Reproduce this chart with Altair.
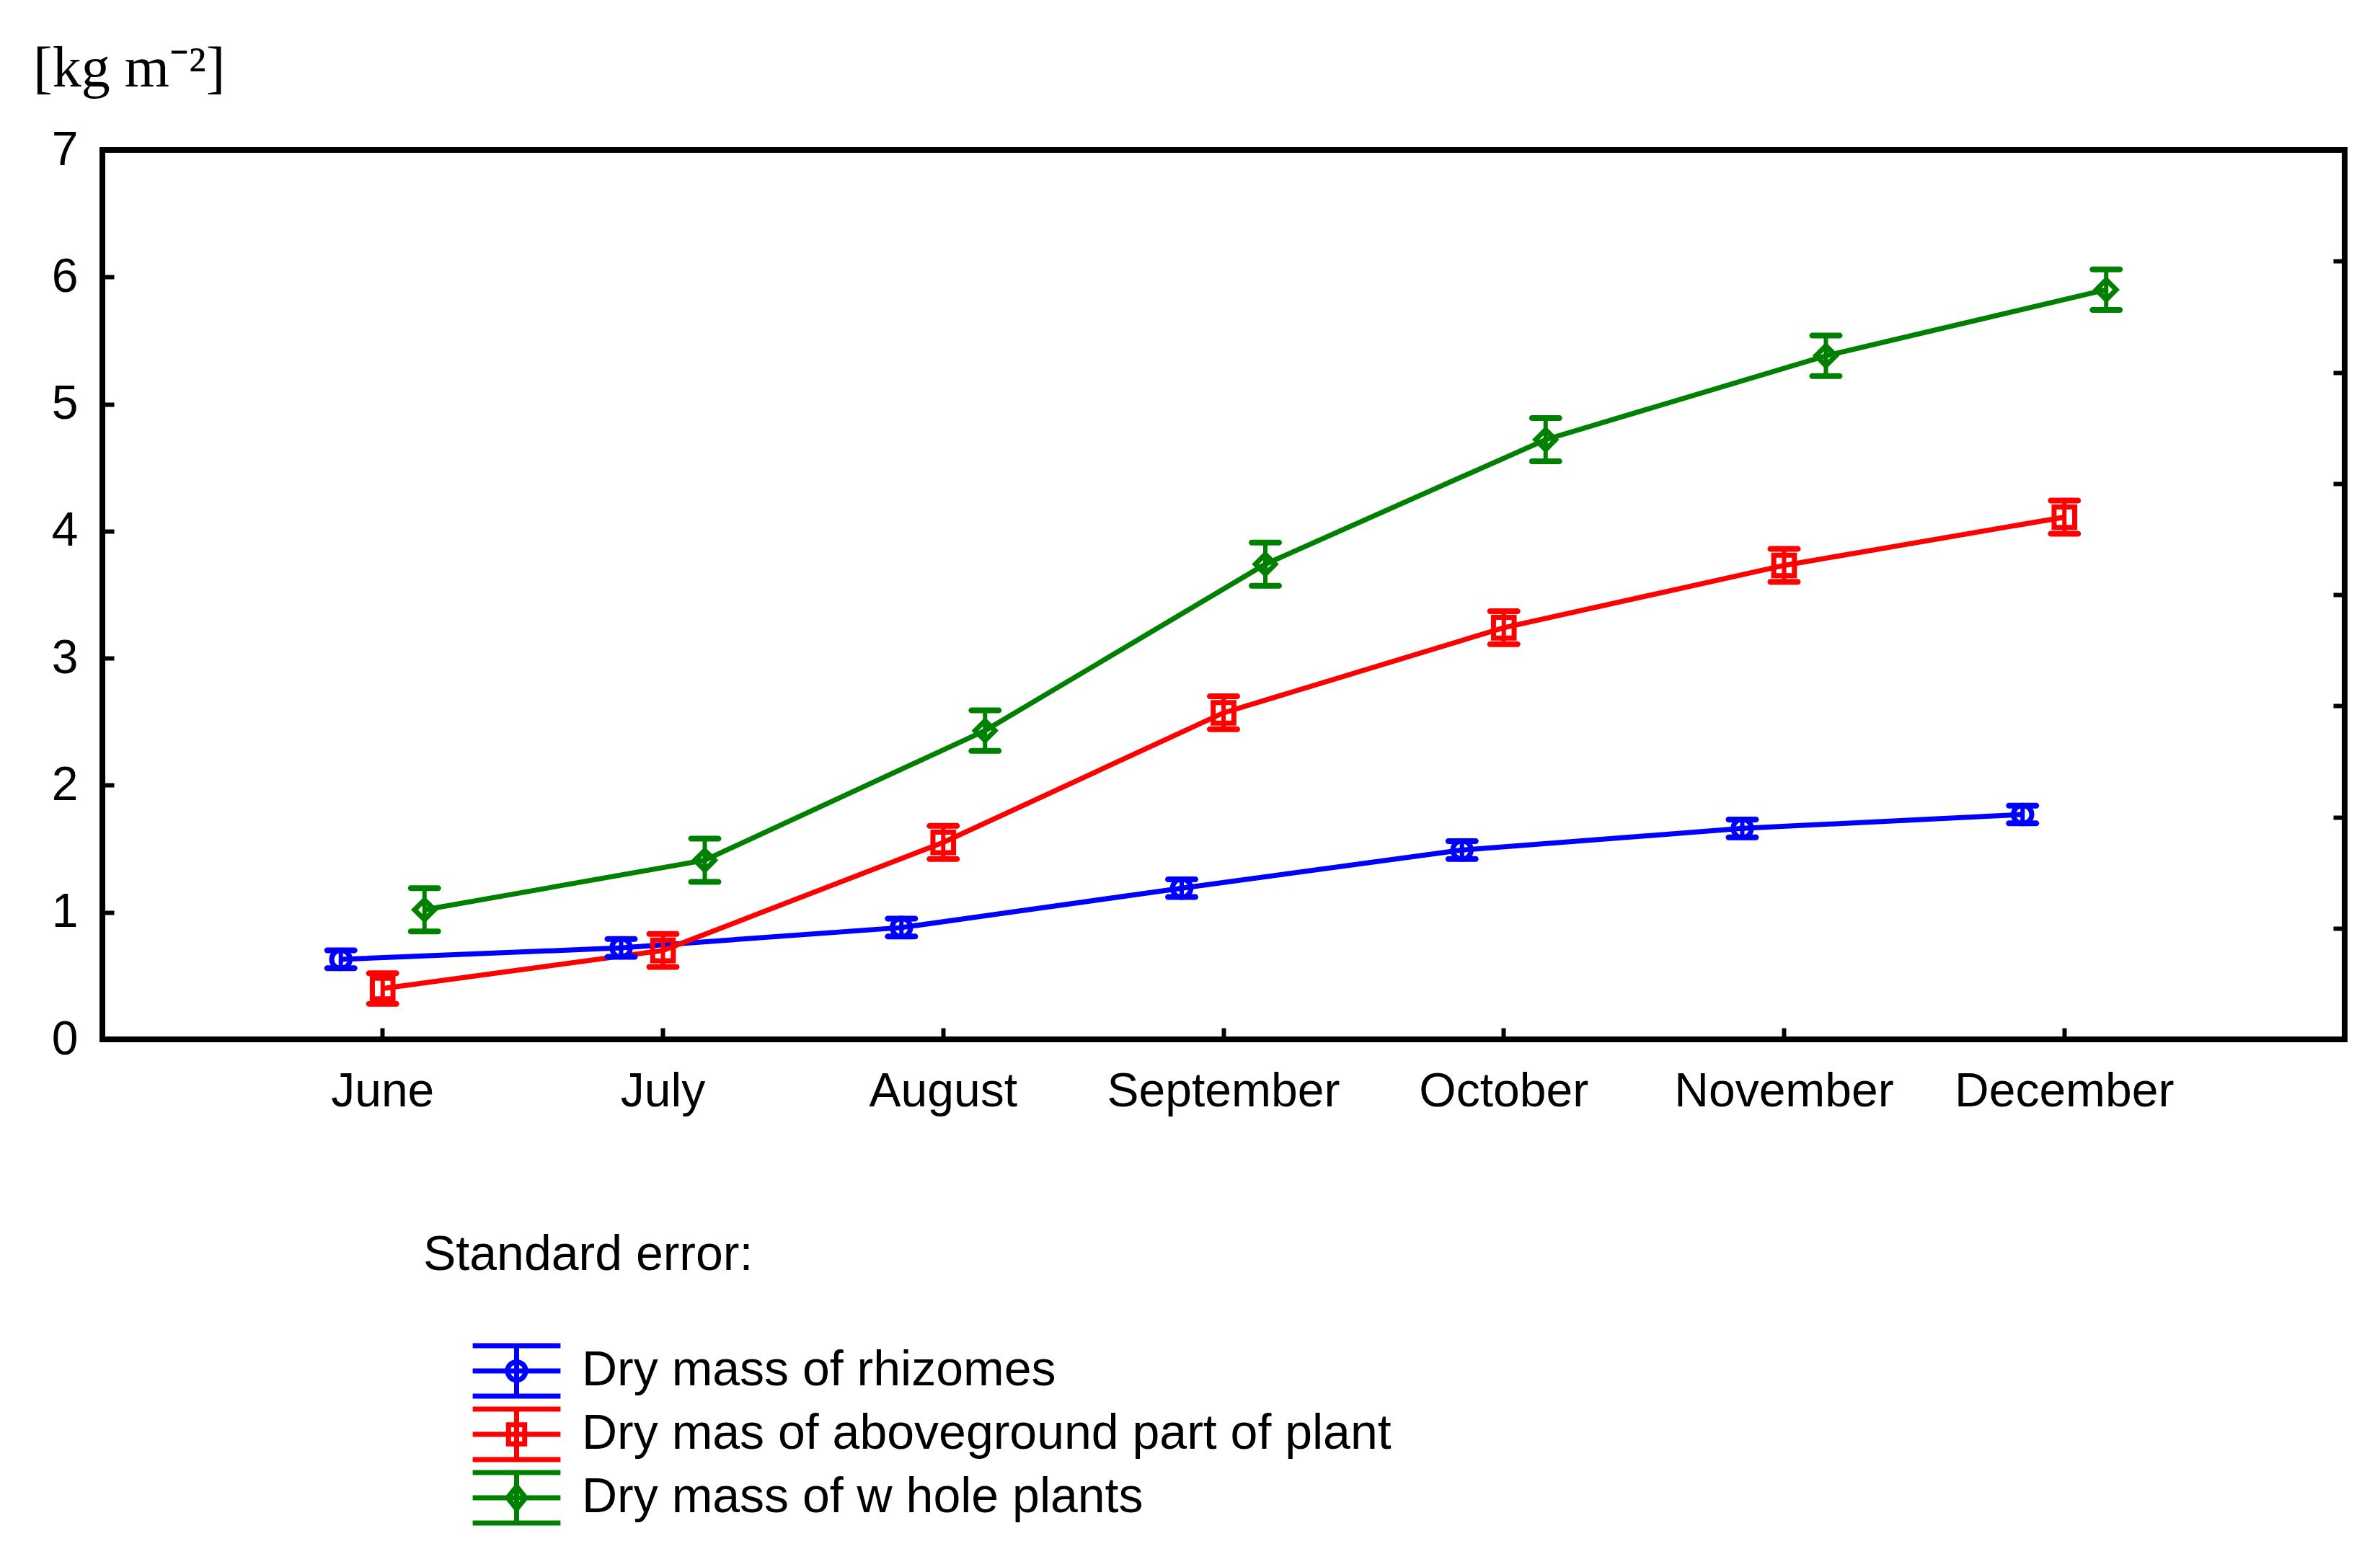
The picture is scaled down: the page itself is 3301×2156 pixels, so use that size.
import altair as alt
import pandas as pd

# ---------------- data ----------------
months = ["June", "July", "August", "September", "October", "November", "December"]
series_names = [
    "Dry mass of rhizomes",
    "Dry mas of aboveground part of plant",
    "Dry mass of w hole plants",
]
rhizomes = [0.63, 0.72, 0.88, 1.19, 1.49, 1.66, 1.77]
rhizomes_se = [0.07, 0.07, 0.07, 0.07, 0.07, 0.07, 0.07]
aboveground = [0.40, 0.70, 1.55, 2.57, 3.24, 3.73, 4.11]
aboveground_se = [0.12, 0.13, 0.13, 0.13, 0.13, 0.13, 0.13]
whole = [1.02, 1.41, 2.43, 3.74, 4.72, 5.38, 5.90]
whole_se = [0.17, 0.17, 0.16, 0.17, 0.17, 0.16, 0.16]

y_ticks = [0, 1, 2, 3, 4, 5, 6, 7]
right_ticks = [0.875, 1.75, 2.625, 3.5, 4.375, 5.25, 6.125]

# ---------------- style ----------------
colors = ["#0000ff", "#ff0000", "#008000"]
marker_shapes = ["circle", "square", "diamond"]
marker_sizes = [650, 820, 760]
x_offsets = [-58, 0, 58]
# legend glyph: unit = 35 px (symbolSize 4900)
bar_part = "M-1.74,-1H1.74M-1.74,0H1.74M-1.74,1H1.74M0,-1V1"
legend_paths = [
    bar_part + "M-0.36,0A0.36,0.36 0 1,0 0.36,0A0.36,0.36 0 1,0 -0.36,0",
    bar_part + "M-0.32,-0.38H0.32V0.38H-0.32Z",
    bar_part + "M0,-0.45L0.36,0L0,0.45L-0.36,0Z",
]
FONT = "Liberation Sans"

values_list = [rhizomes, aboveground, whole]
se_list = [rhizomes_se, aboveground_se, whole_se]

rows = []
for name, vals, ses in zip(series_names, values_list, se_list):
    for m, v, s in zip(months, vals, ses):
        rows.append({"month": m, "series": name, "value": v, "lo": v - s, "hi": v + s})
df = pd.DataFrame(rows)

x_scale = alt.Scale(type="band", domain=months, paddingInner=0, paddingOuter=0.5)
y_scale = alt.Scale(domain=[0, 7], nice=False, zero=True)

x_axis = alt.Axis(
    orient="bottom", offset=-16, tickSize=16, tickWidth=6, tickColor="black",
    labelPadding=40, labelFontSize=66, labelFont=FONT, labelColor="black",
    labelAngle=0, labelLimit=1000, labelOverlap=False, domain=False, grid=False,
    title=None, bandPosition=0.5,
)
y_axis = alt.Axis(
    orient="left", values=y_ticks, offset=-16, tickSize=16, tickWidth=6,
    tickColor="black", labelPadding=34, labelFontSize=66, labelFont=FONT,
    labelColor="black", domain=False, grid=False, title=None,
)
right_axis = alt.Axis(
    orient="right", values=right_ticks, offset=-16, tickSize=16, tickWidth=6,
    tickColor="black", labels=False, domain=False, grid=False, title=None,
)


def xenc():
    return alt.X("month:N", scale=x_scale, sort=months, axis=x_axis)


def yenc(field, axis=None):
    return alt.Y(field, type="quantitative", scale=y_scale, axis=axis)


layers = []
first = True
for i, name in enumerate(series_names):
    src = alt.Chart(df).transform_filter(alt.datum.series == name)
    line = src.mark_line(color=colors[i], strokeWidth=7, xOffset=x_offsets[i]).encode(
        x=xenc(),
        y=yenc("value", y_axis if first else None),
    )
    first = False
    layers.append(line)

for i, name in enumerate(series_names):
    src = alt.Chart(df).transform_filter(alt.datum.series == name)
    rule = src.mark_rule(color=colors[i], strokeWidth=6, xOffset=x_offsets[i]).encode(
        x=xenc(), y=yenc("lo"), y2="hi:Q"
    )
    cap_lo = src.mark_tick(
        color=colors[i], orient="horizontal", size=46, thickness=8,
        cornerRadius=4, opacity=1, xOffset=x_offsets[i],
    ).encode(x=xenc(), y=yenc("lo"))
    cap_hi = src.mark_tick(
        color=colors[i], orient="horizontal", size=46, thickness=8,
        cornerRadius=4, opacity=1, xOffset=x_offsets[i],
    ).encode(x=xenc(), y=yenc("hi"))
    pts = src.mark_point(
        shape=marker_shapes[i], size=marker_sizes[i], filled=False,
        color=colors[i], strokeWidth=7, opacity=1, xOffset=x_offsets[i],
    ).encode(x=xenc(), y=yenc("value"))
    layers += [rule, cap_lo, cap_hi, pts]

legend = alt.Legend(
    title="Standard error:", orient="none", legendX=445, legendY=1500,
    titleFont=FONT, titleFontSize=68, titleFontWeight="normal", titleColor="black",
    titlePadding=82, titleLimit=3000,
    labelFont=FONT, labelFontSize=68, labelColor="black", labelLimit=3000,
    symbolSize=4900, symbolStrokeWidth=7, symbolOffset=91, labelOffset=52,
    rowPadding=0, padding=0, clipHeight=88,
)

legend_layer = (
    alt.Chart(df)
    .transform_filter("false")
    .mark_point(filled=False, size=4900, strokeWidth=7, opacity=1)
    .encode(
        x=xenc(),
        y=yenc("value", right_axis),
        color=alt.Color("series:N", scale=alt.Scale(domain=series_names, range=colors), legend=legend),
        shape=alt.Shape("series:N", scale=alt.Scale(domain=series_names, range=legend_paths), legend=legend),
    )
)
layers.append(legend_layer)

chart = (
    alt.layer(*layers)
    .resolve_axis(y="independent")
    .properties(
        width=3110,
        height=1234,
        background="white",
        title=alt.TitleParams(
            text="[kg m⁻²]", anchor="start", frame="group", font="Liberation Serif",
            fontSize=80, fontWeight="normal", color="black", dx=-96, offset=38,
        ),
        autosize=alt.AutoSizeParams(type="none"),
        padding={"left": 134, "top": 200, "right": 30, "bottom": 690},
    )
    .configure_view(stroke="black", strokeWidth=8)
)

chart.save("out.html", embed_options={"renderer": "svg", "actions": False})
